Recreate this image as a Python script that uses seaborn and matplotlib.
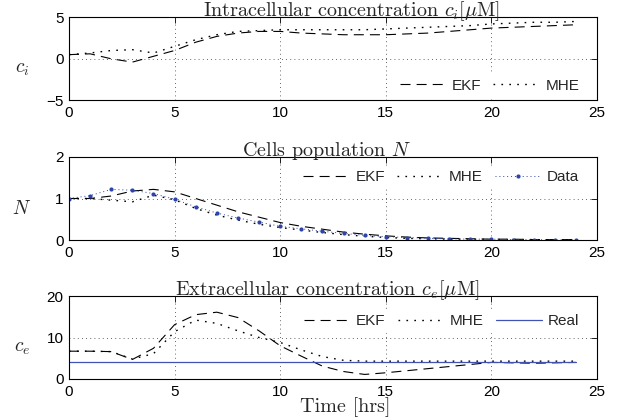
import numpy as np
import pandas as pd
import matplotlib
matplotlib.use("Agg")
import matplotlib.pyplot as plt
import seaborn as sns

# ---------------- data ----------------
time_h = [0, 1, 2, 3, 4, 5, 6, 7, 8, 9, 10, 11, 12, 13, 14, 15, 16, 17, 18, 19, 20, 21, 22, 23, 24]

ci_ekf = [0.5, 0.6, 0.0, -0.4, 0.3, 1.0, 2.0, 2.7, 3.1, 3.3, 3.3, 3.1, 3.0, 2.9, 2.9, 2.9,
          3.0, 3.1, 3.3, 3.5, 3.7, 3.8, 3.9, 4.0, 4.1]
ci_mhe = [0.5, 0.7, 1.0, 1.1, 0.7, 1.5, 2.3, 2.9, 3.3, 3.4, 3.5, 3.5, 3.5, 3.5, 3.5, 3.6,
          3.7, 3.8, 3.9, 4.0, 4.2, 4.3, 4.4, 4.4, 4.5]

n_ekf = [1.0, 1.0, 1.06, 1.18, 1.22, 1.16, 1.0, 0.84, 0.68, 0.55, 0.42, 0.33, 0.26, 0.19,
         0.14, 0.10, 0.07, 0.05, 0.04, 0.03, 0.02, 0.02, 0.01, 0.01, 0.01]
n_mhe = [1.0, 1.0, 0.96, 0.92, 1.08, 0.97, 0.76, 0.60, 0.48, 0.38, 0.30, 0.24, 0.18, 0.13,
         0.09, 0.06, 0.04, 0.03, 0.02, 0.02, 0.01, 0.01, 0.01, 0.0, 0.0]
n_data = [1.0, 1.07, 1.22, 1.20, 1.12, 0.98, 0.80, 0.65, 0.53, 0.43, 0.33, 0.27, 0.21, 0.16,
          0.11, 0.08, 0.06, 0.04, 0.03, 0.02, 0.02, 0.01, 0.01, 0.0, 0.0]

ce_ekf = [6.7, 6.7, 6.6, 4.7, 7.4, 13.1, 15.5, 16.1, 14.8, 11.6, 8.0, 5.5, 3.1, 1.8, 1.1,
          1.5, 2.0, 2.5, 3.0, 3.5, 4.0, 3.9, 3.8, 3.9, 4.0]
ce_mhe = [6.7, 6.7, 6.6, 4.8, 6.1, 11.4, 14.2, 13.4, 11.6, 10.0, 8.8, 7.0, 5.4, 4.5, 4.3,
          4.3, 4.3, 4.3, 4.3, 4.3, 4.3, 4.3, 4.3, 4.3, 4.3]
ce_real = [4.2] * len(time_h)

x_ticks = [0, 5, 10, 15, 20, 25]
titles = [r"Intracellular concentration $c_i[\mu\mathrm{M}]$",
          r"Cells population $N$",
          r"Extracellular concentration $c_e[\mu\mathrm{M}]$"]
ylabels = [r"$c_i$", r"$N$", r"$c_e$"]
y_ticks = [[-5, 0, 5], [0, 1, 2], [0, 10, 20]]
xlabel = "Time [hrs]"

# ---------------- style ----------------
sns.set_style("white")
plt.rcParams["font.family"] = ["Liberation Sans", "DejaVu Sans"]
plt.rcParams["mathtext.fontset"] = "cm"
plt.rcParams["axes.unicode_minus"] = True

fig = plt.figure(figsize=(6.22, 4.2), dpi=100)
L, W, H = 69 / 622, 528 / 622, 83 / 420
bottoms = [1 - 100.3 / 420, 1 - 240 / 420, 1 - 379 / 420]
axes = [fig.add_axes([L, b, W, H]) for b in bottoms]

DASH = (0, (9, 5.5))
DOT = (0, (1.2, 4.5))
BLUE = "#2e44a8"
lw = 0.8

df = pd.DataFrame({"t": time_h, "ci_ekf": ci_ekf, "ci_mhe": ci_mhe, "n_ekf": n_ekf,
                   "n_mhe": n_mhe, "n_data": n_data, "ce_ekf": ce_ekf, "ce_mhe": ce_mhe,
                   "ce_real": ce_real})

# panel 1
ax = axes[0]
sns.lineplot(data=df, x="t", y="ci_ekf", ax=ax, color="k", lw=lw, linestyle=DASH, label="EKF")
sns.lineplot(data=df, x="t", y="ci_mhe", ax=ax, color="k", lw=1.0, linestyle=DOT, label="MHE")
# panel 2
ax = axes[1]
sns.lineplot(data=df, x="t", y="n_ekf", ax=ax, color="k", lw=lw, linestyle=DASH, label="EKF")
sns.lineplot(data=df, x="t", y="n_mhe", ax=ax, color="k", lw=1.0, linestyle=DOT, label="MHE")
sns.lineplot(data=df, x="t", y="n_data", ax=ax, color=BLUE, lw=0.7, linestyle=(0, (1, 3)),
             marker=".", markersize=6, markeredgewidth=0, label="Data")
# panel 3
ax = axes[2]
sns.lineplot(data=df, x="t", y="ce_ekf", ax=ax, color="k", lw=lw, linestyle=DASH, label="EKF")
sns.lineplot(data=df, x="t", y="ce_mhe", ax=ax, color="k", lw=1.0, linestyle=DOT, label="MHE")
sns.lineplot(data=df, x="t", y="ce_real", ax=ax, color="#4052b4", lw=0.9, label="Real")

title_x = [0.536, 0.489, 0.49]
leg_cfg = [("lower right", (0.975, 0.035)), ("upper right", (0.975, 0.895)),
           ("upper right", (0.975, 0.835))]
for i, ax in enumerate(axes):
    ax.set_xlim(0, 25)
    ax.set_ylim(y_ticks[i][0], y_ticks[i][-1])
    ax.set_xticks(x_ticks)
    ax.set_yticks(y_ticks[i])
    ax.grid(True, color="k", linestyle=(0, (1, 4)), linewidth=0.6, alpha=0.8)
    ax.tick_params(direction="in", length=4, width=0.6, top=True, right=True,
                   labelsize=11, pad=4, colors="k")
    for s in ax.spines.values():
        s.set_visible(True)
        s.set_color("k")
        s.set_linewidth(0.8)
    ax.set_xlabel("")
    ax.set_ylabel(ylabels[i], rotation=0, fontsize=14, ha="center", va="center")
    ax.yaxis.set_label_coords(-0.089, 0.37)
    ax.set_title(titles[i], x=title_x[i], pad=1, fontsize=14.5, fontfamily="cmr10")
    loc, anchor = leg_cfg[i]
    leg = ax.legend(loc=loc, bbox_to_anchor=anchor, ncol=3, frameon=True, fontsize=11,
                    handlelength=3.0, handletextpad=0.4, columnspacing=0.8,
                    borderaxespad=0, borderpad=0.3, fancybox=False, framealpha=1)
    leg.get_frame().set_facecolor("white")
    leg.get_frame().set_edgecolor("white")
    leg.get_frame().set_linewidth(0.0)

axes[2].set_xlabel(xlabel, fontsize=14.5, fontfamily="cmr10")
axes[2].xaxis.set_label_coords(0.524, -0.34)
axes[2].xaxis.label.set_va("center")

fig.savefig("out.png", dpi=100)
